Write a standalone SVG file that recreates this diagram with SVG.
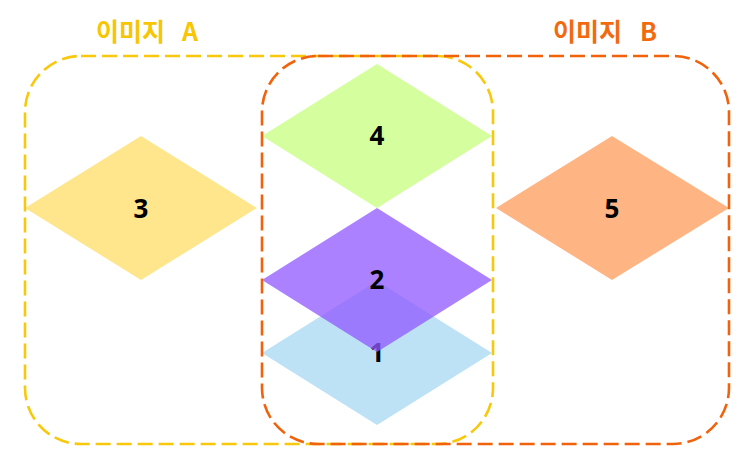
<svg xmlns="http://www.w3.org/2000/svg" width="750" height="469" viewBox="0 0 750 469">
<style>
.lbl{font-family:"Noto Sans","Liberation Sans",sans-serif;font-weight:bold;font-size:26px;fill:#000;text-anchor:middle}
.ttl{font-family:"Noto Sans CJK KR","Noto Sans",sans-serif;font-weight:bold;font-size:25px}
.grp{fill:none;stroke-width:2.6;stroke-dasharray:15 6}
</style>
<rect width="750" height="469" fill="#fff"/>
<g id="node1"><polygon points="262,353 377,281 492,353 377,425" fill="#bde2f6"/><text class="lbl" x="377" y="362">1</text></g>
<g id="node2"><polygon points="262,280 377,208 492,280 377,352" fill="#9159ff" fill-opacity="0.76"/><text class="lbl" x="377" y="289">2</text></g>
<g id="node3"><polygon points="25,208 141,136 257,208 141,280" fill="#ffe68c"/><text class="lbl" x="141" y="218">3</text></g>
<g id="node4"><polygon points="262,136 377,64 492,136 377,208" fill="#d5ff9e"/><text class="lbl" x="377" y="145">4</text></g>
<g id="node5"><polygon points="496,208 612,136 729,208 612,280" fill="#ffb583"/><text class="lbl" x="612" y="218">5</text></g>
<g id="groupA"><rect class="grp" x="25" y="56" width="468" height="388" rx="56" stroke="#f7c80c"/><text class="ttl" x="96" y="41" fill="#f7c600">이미지<tspan x="182">A</tspan></text></g>
<g id="groupB"><rect class="grp" x="262" y="56" width="467" height="388" rx="56" stroke="#f0620c"/><text class="ttl" x="553" y="41" fill="#f26a10">이미지<tspan x="640">B</tspan></text></g>
<g id="connectors"></g>
</svg>
